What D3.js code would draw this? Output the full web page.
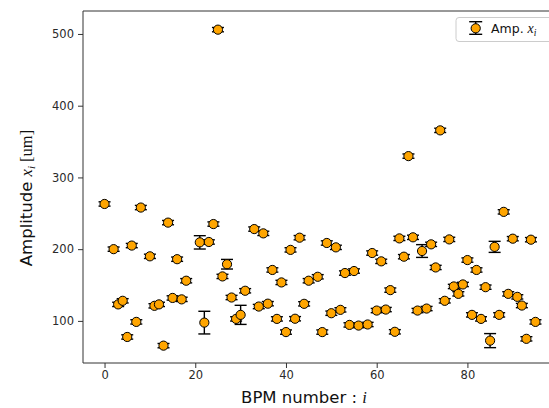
<!DOCTYPE html>
<html>
<head>
<meta charset="utf-8">
<script src="https://cdn.jsdelivr.net/npm/d3@7/dist/d3.min.js"></script>
<style>
  html, body { margin: 0; padding: 0; background: #fff; }
  svg { display: block; }
  text { font-family: "DejaVu Sans", sans-serif; }
</style>
</head>
<body>
<div id="chart"></div>
<script>
// ---- Data ----
const bpm = [0,2,3,4,5,6,7,8,10,11,12,13,14,15,16,17,18,21,22,23,24,25,26,27,28,29,30,31,33,34,35,36,37,38,39,40,41,42,43,44,45,47,48,49,50,51,52,53,54,55,56,58,59,60,61,62,63,64,65,66,67,68,69,70,71,72,73,74,75,76,77,78,79,80,81,82,83,84,85,86,87,88,89,90,91,92,93,94,95];
const amplitude = [263,200,123,128,77.6,205,98.6,258,190,121,123,65.5,237,132,186,130,156,209.5,97.6,210,235,506,162,179,132.6,102.8,108.4,142,228,120,222,124,171,102.8,153.6,84.4,199,103,216,123.8,156,161.5,84.4,208.6,110.7,202.5,115.4,166.7,94.4,169.5,93.5,95,194.6,114.4,183,115.8,142.9,84.8,215,189.5,329.7,216.5,114.4,197.4,117.2,206.7,174.5,365.6,128,213.6,148,137.7,150.8,184.8,108.4,171,102.8,147,72.5,203.2,108.4,252,137.7,214.6,133.5,121.4,75,213.2,98.6];
const errors = [3,3,3,3,3,3,3,3,3,3,3,3,3,3,3,3,3,9.3,15.8,3,3,3,3,6.7,3,3,13.3,3,3,3,3,3,3,3,3,3,3,3,3,3,3,3,3,3,3,3,3,3,3,3,3,3,3,3,3,3,3,3,3,3,3,3,3,8.9,3,3,3,3,3,3,3,3,3,3,3,3,3,3,9.8,7.7,3,3,3,3,3,3,3,3,3];
const xTicks = [0,20,40,60,80];
const yTicks = [100,200,300,400,500];
const legendLabel = "Amp. ";

const W = 549, H = 408;
const svg = d3.select("#chart").append("svg").attr("width", W).attr("height", H);

const x = d3.scaleLinear().domain([-4.75, 99.75]).range([83, 557]);
const y = d3.scaleLinear().domain([41.3, 532]).range([363, 11]);

const axisColor = "#333";

svg.append("defs").append("clipPath").attr("id", "clip")
  .append("rect").attr("x", 83).attr("y", 11).attr("width", 474).attr("height", 352);

const plot = svg.append("g").attr("clip-path", "url(#clip)");

const data = bpm.map((b, i) => ({ b, v: amplitude[i], e: errors[i] }));
const capW = 6;

// error bars
const eb = plot.append("g").attr("stroke", "#000").attr("stroke-width", 1.4);
data.forEach(d => {
  const cx = x(d.b), y1 = y(d.v + d.e), y2 = y(d.v - d.e);
  eb.append("line").attr("x1", cx).attr("x2", cx).attr("y1", y1).attr("y2", y2);
  eb.append("line").attr("x1", cx - capW).attr("x2", cx + capW).attr("y1", y1).attr("y2", y1);
  eb.append("line").attr("x1", cx - capW).attr("x2", cx + capW).attr("y1", y2).attr("y2", y2);
});

// markers
plot.append("g").selectAll("circle").data(data).join("circle")
  .attr("cx", d => x(d.b)).attr("cy", d => y(d.v)).attr("r", 4.6)
  .attr("fill", "#FFA500").attr("stroke", "#000").attr("stroke-width", 1);

// axes
const xAxis = d3.axisBottom(x).tickValues(xTicks).tickSize(5).tickPadding(3).tickSizeOuter(0);
const yAxis = d3.axisLeft(y).tickValues(yTicks).tickSize(5).tickPadding(4).tickSizeOuter(0);

const gx = svg.append("g").attr("transform", "translate(0,363)").call(xAxis);
const gy = svg.append("g").attr("transform", "translate(83,0)").call(yAxis);
[gx, gy].forEach(g => {
  g.select(".domain").remove();
  g.selectAll(".tick line").attr("stroke", axisColor).attr("stroke-width", 1);
  g.selectAll(".tick text").attr("fill", "#2a2a2a").attr("font-size", 11.5)
    .attr("font-family", "DejaVu Sans, sans-serif");
});

// spines (left, bottom, top; right lies beyond the frame)
svg.append("path")
  .attr("d", `M557,11 H83 V363 H557`)
  .attr("fill", "none").attr("stroke", axisColor).attr("stroke-width", 1);

// x label
const xl = svg.append("text").attr("x", 304).attr("y", 403).attr("text-anchor", "middle")
  .attr("font-size", 16.5).attr("fill", "#111");
xl.append("tspan").text("BPM number : ");
xl.append("tspan").attr("font-family", "Liberation Serif, serif").attr("font-style", "italic").text("i");

// y label
const yl = svg.append("text").attr("transform", "translate(32,198) rotate(-90)")
  .attr("text-anchor", "middle").attr("font-size", 16.5).attr("fill", "#111");
yl.append("tspan").text("Amplitude ");
yl.append("tspan").attr("font-family", "Liberation Serif, serif").attr("font-style", "italic").text("x");
yl.append("tspan").attr("font-family", "Liberation Serif, serif").attr("font-style", "italic")
  .attr("font-size", 11).attr("dy", 3).text("i");
yl.append("tspan").attr("font-family", "Liberation Serif, serif").attr("dy", -3).text(" [um]");

// legend
const lg = svg.append("g");
lg.append("rect").attr("x", 456).attr("y", 17.5).attr("width", 100).attr("height", 24)
  .attr("rx", 3).attr("fill", "#fff").attr("fill-opacity", 0.8)
  .attr("stroke", "#ccc").attr("stroke-width", 1);
const lx = 475.7, ly = 28.3;
lg.append("line").attr("x1", lx).attr("x2", lx).attr("y1", 21.7).attr("y2", 34.3).attr("stroke", "#000").attr("stroke-width", 1.4);
lg.append("line").attr("x1", lx - 6.5).attr("x2", lx + 6.5).attr("y1", 21.7).attr("y2", 21.7).attr("stroke", "#000").attr("stroke-width", 1.4);
lg.append("line").attr("x1", lx - 6.5).attr("x2", lx + 6.5).attr("y1", 34.3).attr("y2", 34.3).attr("stroke", "#000").attr("stroke-width", 1.4);
lg.append("circle").attr("cx", lx).attr("cy", ly).attr("r", 4.6).attr("fill", "#FFA500").attr("stroke", "#000");
const lt = lg.append("text").attr("x", 491).attr("y", 33).attr("font-size", 12.5).attr("fill", "#111");
lt.append("tspan").text(legendLabel);
lt.append("tspan").attr("font-family", "Liberation Serif, serif").attr("font-style", "italic").attr("font-size", 14).text("x");
lt.append("tspan").attr("font-family", "Liberation Serif, serif").attr("font-style", "italic").attr("font-size", 9.5).attr("dy", 2.5).text("i");
</script>
</body>
</html>
